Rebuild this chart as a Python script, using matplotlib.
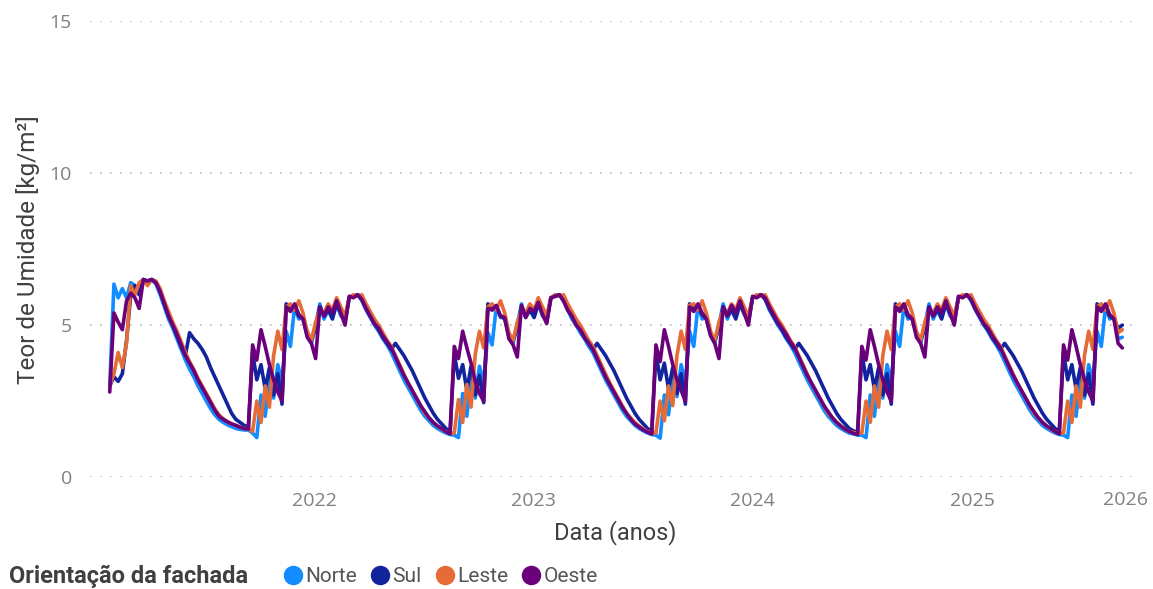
"""
Teor de umidade por orientação da fachada (2021-2025).
Recria o gráfico de linhas semanais com as quatro orientações.
"""

import matplotlib.pyplot as plt
from matplotlib.lines import Line2D
import pandas as pd

# ---------------- DADOS (valores semanais, kg/m²) ----------------

inicio = "2021-01-25"

orientacoes = ["Norte", "Sul", "Leste", "Oeste"]
cores = ["#118DFF", "#12239E", "#E66C37", "#6B007B"]

norte = (
    [3.0, 6.35, 5.9, 6.2, 5.9, 6.4, 6.3, 6.1, 6.5, 6.45, 6.5, 6.35, 6.0, 5.6, 5.2, 4.9, 4.55,
     4.2, 3.85, 3.55, 3.3, 3.0, 2.75, 2.5, 2.25, 2.05, 1.9, 1.8, 1.72, 1.66, 1.6, 1.57, 1.55, 1.55]
    + [1.45, 1.3, 2.7, 2.0, 3.3, 2.6, 3.7, 3.1, 4.8, 4.3, 5.6, 5.2, 5.3, 4.7, 4.4, 5.0, 5.7,
       5.2, 5.5, 5.3, 5.7, 5.3, 5.2, 5.9, 5.95, 6.0, 5.8, 5.5, 5.25, 5.0, 4.8, 4.55, 4.35, 4.1,
       3.8, 3.5, 3.2, 2.95, 2.7, 2.45, 2.2, 2.0, 1.85, 1.7, 1.6, 1.52, 1.45, 1.4]
    + [1.38, 1.3, 2.75, 2.0, 3.35, 2.6, 3.65, 3.1, 4.75, 4.35, 5.6, 5.25, 5.3, 4.65, 4.4, 5.0,
       5.7, 5.25, 5.5, 5.3, 5.7, 5.3, 5.2, 5.9, 5.95, 6.0, 5.8, 5.5, 5.2, 5.0, 4.75, 4.55, 4.3,
       4.1, 3.8, 3.5, 3.2, 2.95, 2.7, 2.45, 2.2, 2.0, 1.85, 1.7, 1.6, 1.52, 1.45, 1.4]
    + [1.38, 1.28, 2.7, 2.05, 3.3, 2.65, 3.7, 3.1, 4.8, 4.3, 5.65, 5.2, 5.3, 4.7, 4.4, 5.0, 5.7,
       5.2, 5.55, 5.3, 5.7, 5.35, 5.2, 5.9, 5.95, 6.0, 5.85, 5.5, 5.25, 5.0, 4.8, 4.55, 4.35,
       4.1, 3.8, 3.5, 3.2, 2.95, 2.7, 2.45, 2.2, 2.0, 1.85, 1.7, 1.6, 1.52, 1.45, 1.42, 1.38]
    + [1.38, 1.3, 2.7, 2.0, 3.3, 2.6, 3.7, 3.1, 4.8, 4.3, 5.6, 5.2, 5.3, 4.7, 4.4, 5.0, 5.7,
       5.2, 5.5, 5.3, 5.7, 5.3, 5.2, 5.9, 5.95, 6.0, 5.8, 5.5, 5.25, 5.0, 4.8, 4.55, 4.35, 4.1,
       3.8, 3.5, 3.2, 2.95, 2.7, 2.45, 2.2, 2.0, 1.85, 1.7, 1.6, 1.52, 1.45, 1.4]
    + [1.38, 1.3, 2.7, 2.0, 3.3, 2.6, 3.7, 3.1, 4.8, 4.3, 5.6, 5.2, 5.3, 4.55, 4.6]
)

sul = (
    [3.0, 3.3, 3.15, 3.4, 4.5, 6.0, 6.3, 6.0, 6.5, 6.45, 6.5, 6.4, 6.1, 5.7, 5.3, 5.0, 4.65,
     4.3, 4.0, 4.75, 4.55, 4.4, 4.2, 3.95, 3.6, 3.3, 3.0, 2.7, 2.4, 2.1, 1.9, 1.8, 1.7, 1.65]
    + [4.1, 3.2, 3.7, 2.9, 3.6, 2.7, 3.4, 2.4, 5.7, 5.5, 5.6, 5.3, 5.2, 4.7, 4.5, 4.9, 5.6,
       5.3, 5.5, 5.2, 5.7, 5.4, 5.1, 5.9, 5.95, 6.0, 5.85, 5.55, 5.3, 5.05, 4.85, 4.6, 4.4, 4.2,
       4.4, 4.2, 4.0, 3.75, 3.5, 3.2, 2.9, 2.6, 2.35, 2.1, 1.9, 1.75, 1.6, 1.5]
    + [4.05, 3.25, 3.7, 2.85, 3.65, 2.7, 3.35, 2.45, 5.7, 5.5, 5.6, 5.3, 5.2, 4.65, 4.5, 4.9,
       5.6, 5.3, 5.5, 5.25, 5.7, 5.4, 5.1, 5.9, 5.95, 6.0, 5.85, 5.5, 5.3, 5.05, 4.85, 4.6,
       4.4, 4.2, 4.4, 4.2, 4.0, 3.75, 3.5, 3.2, 2.9, 2.6, 2.35, 2.1, 1.9, 1.75, 1.6, 1.5]
    + [4.1, 3.2, 3.75, 2.9, 3.6, 2.75, 3.4, 2.4, 5.7, 5.5, 5.6, 5.35, 5.2, 4.7, 4.5, 4.9, 5.6,
       5.3, 5.5, 5.2, 5.7, 5.4, 5.1, 5.9, 5.95, 6.0, 5.85, 5.55, 5.3, 5.05, 4.85, 4.6, 4.4,
       4.2, 4.4, 4.2, 4.0, 3.75, 3.5, 3.2, 2.9, 2.6, 2.35, 2.1, 1.9, 1.75, 1.6, 1.52, 1.48]
    + [4.1, 3.2, 3.7, 2.9, 3.6, 2.7, 3.4, 2.4, 5.7, 5.5, 5.6, 5.3, 5.2, 4.7, 4.5, 4.9, 5.6,
       5.3, 5.5, 5.2, 5.7, 5.4, 5.1, 5.9, 5.95, 6.0, 5.85, 5.55, 5.3, 5.05, 4.85, 4.6, 4.4, 4.2,
       4.4, 4.2, 4.0, 3.75, 3.5, 3.2, 2.9, 2.6, 2.35, 2.1, 1.9, 1.75, 1.6, 1.5]
    + [4.1, 3.2, 3.7, 2.9, 3.6, 2.7, 3.4, 2.4, 5.7, 5.5, 5.6, 5.3, 5.2, 4.9, 5.0]
)

leste = (
    [3.0, 3.4, 4.1, 3.6, 4.4, 6.3, 6.0, 6.4, 6.5, 6.3, 6.5, 6.45, 6.2, 5.8, 5.45, 5.1, 4.8,
     4.45, 4.1, 3.8, 3.55, 3.25, 3.0, 2.75, 2.5, 2.25, 2.05, 1.92, 1.82, 1.75, 1.7, 1.65, 1.6, 1.6]
    + [1.5, 2.5, 1.8, 3.0, 2.3, 4.0, 4.8, 4.2, 5.6, 5.7, 5.5, 5.8, 5.4, 4.8, 4.5, 5.1, 5.5,
       5.4, 5.7, 5.5, 5.9, 5.6, 5.3, 5.9, 6.0, 5.95, 6.0, 5.7, 5.45, 5.2, 5.0, 4.75, 4.5, 4.3,
       4.0, 3.7, 3.4, 3.1, 2.85, 2.6, 2.35, 2.1, 1.95, 1.8, 1.68, 1.58, 1.5, 1.45]
    + [1.45, 2.55, 1.8, 3.05, 2.3, 4.05, 4.8, 4.25, 5.6, 5.7, 5.5, 5.8, 5.4, 4.75, 4.5, 5.1,
       5.5, 5.4, 5.7, 5.5, 5.9, 5.6, 5.3, 5.9, 6.0, 5.95, 6.0, 5.7, 5.45, 5.2, 5.0, 4.75, 4.5,
       4.3, 4.0, 3.7, 3.4, 3.1, 2.85, 2.6, 2.35, 2.1, 1.95, 1.8, 1.68, 1.58, 1.5, 1.45]
    + [1.45, 2.5, 1.85, 3.0, 2.35, 4.0, 4.8, 4.2, 5.65, 5.7, 5.5, 5.8, 5.4, 4.8, 4.5, 5.1, 5.5,
       5.4, 5.7, 5.5, 5.9, 5.6, 5.3, 5.9, 6.0, 5.95, 6.0, 5.7, 5.45, 5.2, 5.0, 4.75, 4.5, 4.3,
       4.0, 3.7, 3.4, 3.1, 2.85, 2.6, 2.35, 2.1, 1.95, 1.8, 1.68, 1.58, 1.5, 1.47, 1.44]
    + [1.45, 2.5, 1.8, 3.0, 2.3, 4.0, 4.8, 4.2, 5.6, 5.7, 5.5, 5.8, 5.4, 4.8, 4.5, 5.1, 5.5,
       5.4, 5.7, 5.5, 5.9, 5.6, 5.3, 5.9, 6.0, 5.95, 6.0, 5.7, 5.45, 5.2, 5.0, 4.75, 4.5, 4.3,
       4.0, 3.7, 3.4, 3.1, 2.85, 2.6, 2.35, 2.1, 1.95, 1.8, 1.68, 1.58, 1.5, 1.45]
    + [1.45, 2.5, 1.8, 3.0, 2.3, 4.0, 4.8, 4.2, 5.6, 5.7, 5.5, 5.8, 5.4, 4.75, 4.85]
)

oeste = (
    [2.8, 5.4, 5.1, 4.85, 5.8, 6.05, 5.9, 5.55, 6.5, 6.45, 6.5, 6.4, 6.1, 5.7, 5.3, 5.0, 4.7,
     4.35, 4.0, 3.75, 3.5, 3.2, 2.95, 2.7, 2.45, 2.2, 2.0, 1.9, 1.82, 1.75, 1.7, 1.64, 1.6, 1.58]
    + [4.35, 3.85, 4.85, 4.3, 3.7, 3.2, 2.8, 2.5, 5.6, 5.45, 5.7, 5.35, 5.2, 4.6, 4.4, 3.9,
       5.6, 5.3, 5.6, 5.4, 5.8, 5.4, 5.0, 5.95, 5.9, 6.0, 5.85, 5.55, 5.3, 5.05, 4.9, 4.65,
       4.45, 4.25, 3.95, 3.65, 3.35, 3.1, 2.85, 2.6, 2.35, 2.15, 1.95, 1.8, 1.68, 1.6, 1.5, 1.42]
    + [4.3, 3.9, 4.8, 4.25, 3.75, 3.15, 2.75, 2.5, 5.55, 5.5, 5.65, 5.3, 5.25, 4.55, 4.35,
       3.95, 5.65, 5.25, 5.55, 5.45, 5.75, 5.35, 5.05, 5.9, 5.95, 6.0, 5.8, 5.5, 5.3, 5.0,
       4.85, 4.6, 4.4, 4.2, 3.9, 3.6, 3.3, 3.05, 2.8, 2.55, 2.3, 2.1, 1.9, 1.75, 1.65, 1.55,
       1.48, 1.42]
    + [4.35, 3.8, 4.85, 4.3, 3.7, 3.2, 2.85, 2.5, 5.6, 5.45, 5.7, 5.4, 5.2, 4.65, 4.4, 3.9,
       5.6, 5.3, 5.65, 5.4, 5.8, 5.4, 5.0, 5.95, 5.9, 6.0, 5.9, 5.6, 5.35, 5.1, 4.9, 4.7, 4.45,
       4.25, 3.95, 3.65, 3.35, 3.1, 2.85, 2.6, 2.35, 2.15, 1.95, 1.8, 1.68, 1.58, 1.5, 1.44, 1.4]
    + [4.3, 3.85, 4.85, 4.3, 3.7, 3.2, 2.8, 2.5, 5.6, 5.45, 5.7, 5.35, 5.2, 4.6, 4.4, 3.95,
       5.6, 5.3, 5.6, 5.4, 5.8, 5.4, 5.0, 5.95, 5.9, 6.0, 5.85, 5.55, 5.3, 5.05, 4.9, 4.65,
       4.45, 4.25, 3.95, 3.65, 3.35, 3.1, 2.85, 2.6, 2.35, 2.15, 1.95, 1.8, 1.68, 1.6, 1.5, 1.42]
    + [4.35, 3.85, 4.85, 4.3, 3.7, 3.2, 2.8, 2.5, 5.6, 5.45, 5.7, 5.35, 5.2, 4.4, 4.25]
)

anos_ticks = ["2022", "2023", "2024", "2025"]

# ---------------- GRAFICO ----------------

plt.rcParams["font.family"] = ["Open Sans", "DejaVu Sans"]
fonte_titulo = ["Roboto", "DejaVu Sans"]

datas = pd.date_range(inicio, periods=len(norte), freq="7D")

fig = plt.figure(figsize=(11.53, 5.89), dpi=100)
ax = fig.add_axes([0.078, 0.19, 0.911, 0.774])

for nome, valores, cor in zip(orientacoes, [norte, sul, leste, oeste], cores):
    ax.plot(datas, valores, color=cor, lw=2.6, label=nome,
            solid_joinstyle="round", solid_capstyle="round")

ax.set_ylim(0, 15)
ax.set_yticks([0, 5, 10, 15])
ax.set_xlim(pd.Timestamp("2020-12-23"), pd.Timestamp("2025-10-08"))
ax.set_xticks([pd.Timestamp(a + "-01-01") for a in anos_ticks])
ax.set_xticklabels(anos_ticks)

ax.grid(axis="y", linestyle=(0, (1, 5)), color="#bdbdbd", lw=1.2)
ax.grid(axis="x", visible=False)
for lado in ax.spines.values():
    lado.set_visible(False)
ax.tick_params(length=0, labelsize=14, colors="#808080")
ax.tick_params(axis="x", pad=11)
ax.tick_params(axis="y", pad=13)

# o Power BI encosta o rotulo do ultimo ano na borda direita
ax.text(0.986, -0.05, "2026", transform=ax.transAxes, ha="center", va="center",
        fontsize=14, color="#808080")

ax.set_xlabel("Data (anos)", fontsize=17, color="#404040", family=fonte_titulo, labelpad=7)
ax.set_ylabel("Teor de Umidade [kg/m²]", fontsize=17.5, color="#404040",
              family=fonte_titulo, labelpad=7)

# legenda em linha, com titulo a esquerda
fig.text(0.008, 0.021, "Orientação da fachada", fontsize=17, fontweight="bold",
         color="#404040", va="center", family=fonte_titulo)
marcas = [Line2D([], [], marker="o", ls="", color=c, markersize=13) for c in cores]
fig.legend(marcas, orientacoes, loc="center left", bbox_to_anchor=(0.243, 0.021), ncol=4,
           frameon=False, handletextpad=0.0, columnspacing=0.5, handlelength=1.2,
           labelcolor="#555555", borderaxespad=0, borderpad=0,
           prop={"family": fonte_titulo, "size": 15})

fig.savefig("out.png", dpi=100)
plt.close(fig)
